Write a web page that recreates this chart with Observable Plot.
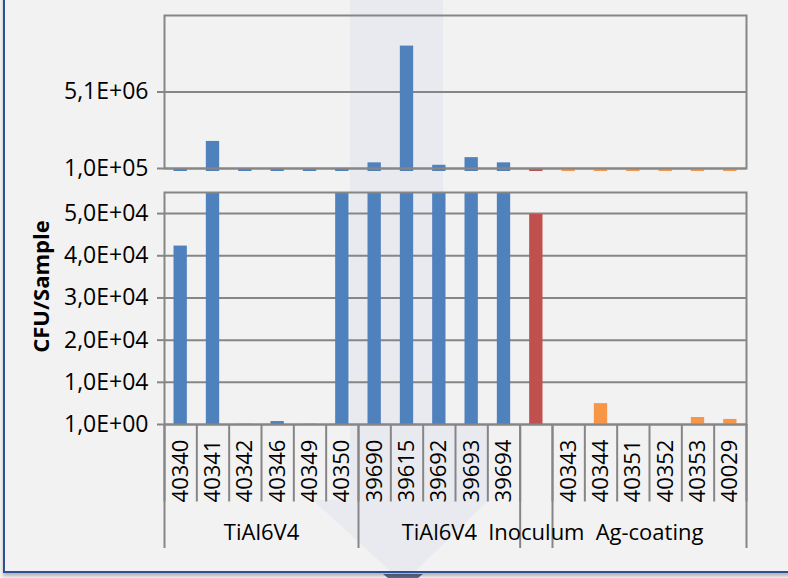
<!DOCTYPE html>
<html>
<head>
<meta charset="utf-8">
<script src="https://cdn.jsdelivr.net/npm/d3@7"></script>
<script src="https://cdn.jsdelivr.net/npm/@observablehq/plot@0.6"></script>
<style>
  html, body { margin: 0; padding: 0; background: #f2f2f2; }
  #wrap { position: relative; width: 788px; height: 578px; overflow: hidden; background: #f2f2f2; font-family: "Open Sans", sans-serif; }
  #deco { position: absolute; left: 0; top: 0; }
  .panel { position: absolute; left: 0; }
  #border { position: absolute; left: 3px; top: -10px; width: 800px; height: 583px; border-left: 2px solid #2d4f96; border-bottom: 2px solid #2d4f96; box-shadow: 0 3px 3px rgba(0,0,0,0.25); box-sizing: border-box; }
</style>
</head>
<body>
<div id="wrap">
  <svg id="deco" width="788" height="578">
    <polygon points="350,0 443,0 443,425 489,425 489,500 403,583 313,500 350,500" fill="#e6e9ee" opacity="0.85"></polygon>
    <polygon points="383,574 423,574 403,590" fill="#5b6d8c"></polygon>
  </svg>
  <div id="border"></div>
  <div id="toppanel" class="panel" style="top:0px"></div>
  <div id="bottompanel" class="panel" style="top:180px"></div>
  <div id="labelpanel" class="panel" style="top:424px"></div>
</div>
<script>
// ---- data ----
const samples = ["40340","40341","40342","40346","40349","40350","39690","39615","39692","39693","39694","","40343","40344","40351","40352","40353","40029"];
const groups  = ["TiAl6V4","TiAl6V4","TiAl6V4","TiAl6V4","TiAl6V4","TiAl6V4","TiAl6V4","TiAl6V4","TiAl6V4","TiAl6V4","TiAl6V4","Inoculum","Ag-coating","Ag-coating","Ag-coating","Ag-coating","Ag-coating","Ag-coating"];
const values  = [42300, 1870000, 50, 700, 50, 100000, 470000, 8100000, 310000, 810000, 470000, 49800, 0, 4950, 0, 0, 1650, 1200];
const groupLabels = ["TiAl6V4", "TiAl6V4", "Inoculum", "Ag-coating"];
const groupStart  = [0, 6, 11, 12];
const groupEnd    = [6, 11, 12, 18];
const seriesNames = ["TiAl6V4", "Inoculum", "Ag-coating"];
const seriesColors = ["#4f81bd", "#c0504d", "#f79646"];
const topTicks = [100000, 5100000];
const topTickLabels = ["1,0E+05", "5,1E+06"];
const bottomTicks = [0, 10000, 20000, 30000, 40000, 50000];
const bottomTickLabels = ["1,0E+00", "1,0E+04", "2,0E+04", "3,0E+04", "4,0E+04", "5,0E+04"];
const yTitle = "CFU/Sample";

(function () {
const rows = samples.map((s, i) => ({i, sample: s, group: groups[i], value: values[i]}));
const n = samples.length;

const gray = "#868686";
const tickFont = 23;
const common = {
  width: 788,
  marginLeft: 164,
  marginRight: 42,
  style: "background: transparent; font-family: 'Open Sans', sans-serif; font-size: 21px; color: #000; overflow: visible;",
  x: {domain: [0, n], axis: null},
  color: {domain: seriesNames, range: seriesColors}
};

function yTickLabels(ticks, labels) {
  return Plot.text(ticks, {y: d => d, text: (d, k) => labels[k], frameAnchor: "left", textAnchor: "end", dx: -16, fontSize: tickFont, fill: "#000"});
}

// ---- top panel (1E+05 .. 1E+07) ----
const topPlot = Plot.plot({
  ...common,
  height: 180,
  marginTop: 15,
  marginBottom: 12,
  y: {domain: [100000, 10100000], clamp: true, axis: null},
  marks: [
    Plot.gridY(topTicks, {stroke: gray, strokeOpacity: 1, strokeWidth: 2}),
    Plot.rectY(rows, {x1: "i", x2: d => d.i + 1, y1: 100000, y2: "value", fill: "group", insetLeft: 9.5, insetRight: 9.5, insetBottom: -3}),
    Plot.frame({stroke: gray, strokeWidth: 2}),
    Plot.axisY(topTicks, {label: null, tickFormat: () => "", tickSize: 7, stroke: gray, strokeWidth: 2}),
    yTickLabels(topTicks, topTickLabels)
  ]
});
document.getElementById("toppanel").appendChild(topPlot);

// ---- bottom panel (0 .. 5.5E+04) ----
const bottomPlot = Plot.plot({
  ...common,
  height: 250,
  marginTop: 12,
  marginBottom: 6,
  y: {domain: [0, 55000], axis: null},
  marks: [
    Plot.gridY(bottomTicks, {stroke: gray, strokeOpacity: 1, strokeWidth: 2}),
    Plot.rectY(rows, {x1: "i", x2: d => d.i + 1, y1: 0, y2: "value", fill: "group", insetLeft: 9.5, insetRight: 9.5, clip: true}),
    Plot.frame({stroke: gray, strokeWidth: 2}),
    Plot.axisY(bottomTicks, {label: null, tickFormat: () => "", tickSize: 7, stroke: gray, strokeWidth: 2}),
    yTickLabels(bottomTicks, bottomTickLabels),
    Plot.text([yTitle], {frameAnchor: "left", textAnchor: "middle", rotate: -90, dx: -123, dy: -22, fontWeight: "bold", fontSize: 22, fill: "#000"})
  ]
});
document.getElementById("bottompanel").appendChild(bottomPlot);

// ---- category axis (two tiers) ----
const boundaries = d3.range(n + 1);
const groupRows = groupLabels.map((g, k) => ({label: g, start: groupStart[k], end: groupEnd[k]}));
const groupBounds = Array.from(new Set(groupStart.concat(groupEnd)));
const labelPlot = Plot.plot({
  ...common,
  height: 130,
  marginTop: 0,
  marginBottom: 0,
  y: {domain: [0, 1.6], range: [0, 124], axis: null},
  marks: [
    Plot.ruleX(boundaries, {x: d => d, y1: 0, y2: 1, stroke: gray, strokeWidth: 2}),
    Plot.ruleX(groupBounds, {x: d => d, y1: 0, y2: 1.6, stroke: gray, strokeWidth: 2}),
    Plot.text(rows, {x: d => d.i + 0.5, y: 0.6, text: "sample", rotate: -90, fontSize: 22, fill: "#000"}),
    Plot.text(groupRows, {x: d => (d.start + d.end) / 2, y: 1.4, text: "label", fontSize: 22, fill: "#000"})
  ]
});
document.getElementById("labelpanel").appendChild(labelPlot);
})();
</script>
</body>
</html>
